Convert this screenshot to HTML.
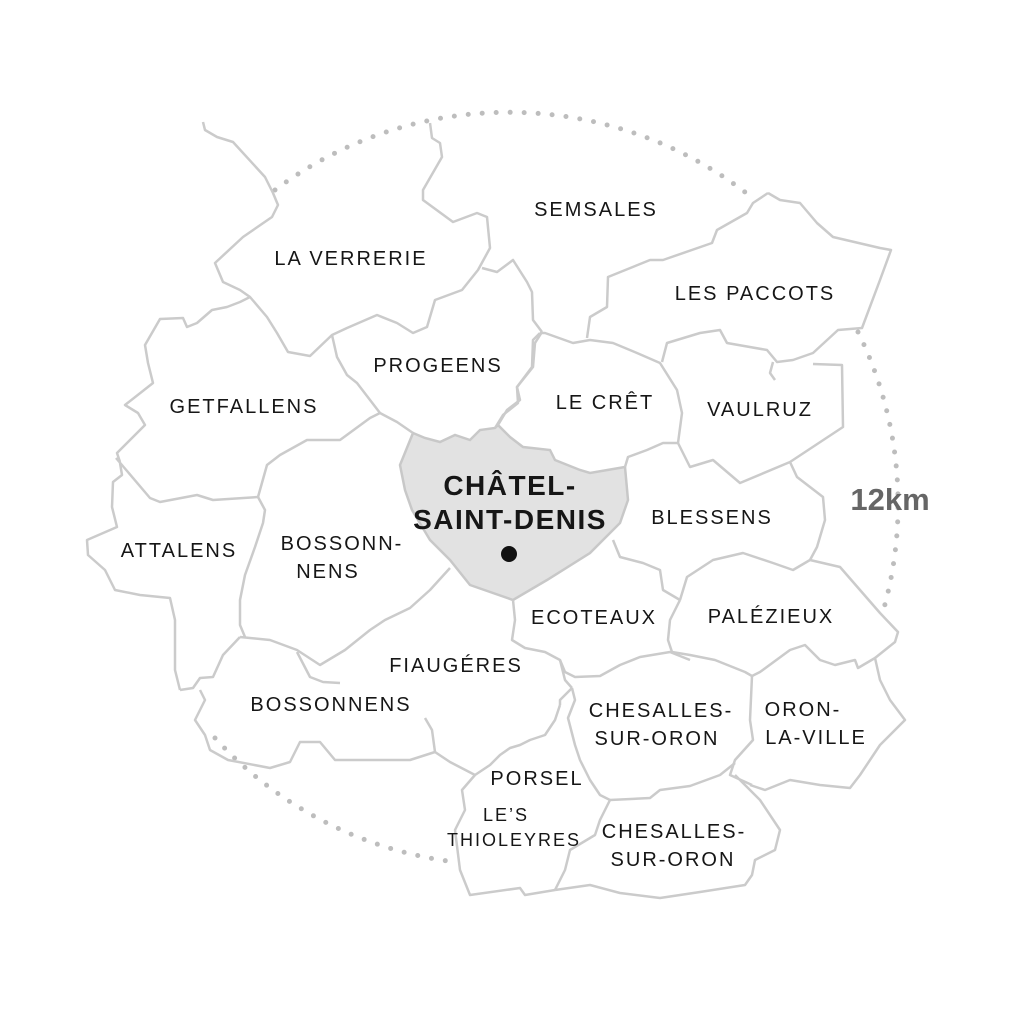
<!DOCTYPE html>
<html><head><style>
html,body{margin:0;padding:0;background:#fff}
svg{display:block}
text{font-family:"Liberation Sans",sans-serif;fill:#161616;font-size:20px;letter-spacing:2px;text-anchor:middle}
</style></head><body>
<svg width="1024" height="1024" viewBox="0 0 1024 1024">
<g fill="none" stroke="#bdbdbd" stroke-width="5" stroke-linecap="round" stroke-dasharray="0 14">
<path d="M275 190 A390 390 0 0 1 755 200"/>
<path d="M858 332 A390 390 0 0 1 882 615"/>
<path d="M215 738 A390 390 0 0 0 455 862"/>
</g>
<polygon points="413,433 400,465 405,490 412,510 430,540 450,560 470,585 513,600 547,580 590,553 620,523 628,500 625,467 590,473 580,470 555,460 550,450 523,447 510,437 498,425 495,428 480,430 470,440 455,435 440,442 425,438" fill="#e2e2e2" stroke="#c8c8c8" stroke-width="2.5"/>
<g fill="none" stroke="#cbcbcb" stroke-width="2.5" stroke-linejoin="round">
<polyline points="203,122 205,130 217,137 233,142 265,177 273,193 278,205 272,217 243,237 215,263 223,282 240,290 250,297 267,317 277,333 288,352 310,356 332,335 347,328 377,315 397,323 413,333 427,327 435,300 462,290 478,270 490,248 487,217 477,213 453,222 423,200 423,190 442,157 440,143 432,138 430,123"/>
<polyline points="482,268 497,272 513,260 527,282 532,292 533,320 542,332"/>
<polyline points="332,335 337,357 347,375 357,383 380,413 397,422 413,433"/>
<polyline points="542,332 535,343 533,367 517,387 518,403 503,415 495,428"/>
<polyline points="250,297 240,302 227,307 212,310 197,323 187,327 183,318 160,319 145,345 148,363 153,383 125,405 138,413 145,425 117,453 120,462"/>
<polyline points="380,413 370,418 340,440 307,440 280,455 267,465 258,497"/>
<polyline points="116,458 150,498 160,502 197,495 213,500 258,497"/>
<polyline points="120,463 122,475 113,482 112,507 117,527 87,540 88,555 105,570 115,590 140,595 170,598 175,620 175,650 175,670 180,690"/>
<polyline points="258,497 265,510 263,523 255,547 245,575 240,600 240,625 245,637"/>
<polyline points="768,193 780,200 800,203 817,223 833,237 880,248 891,250 880,280 862,328 838,330 813,353 793,360 777,362 767,350 727,343 720,330 700,333 667,343 662,362"/>
<polyline points="768,193 753,203 747,213 717,230 712,243 663,260 650,260 608,277 607,307 590,317 587,338"/>
<polyline points="540,333 545,333 573,343 590,340 613,343 637,353 660,363 677,390 682,413 678,443"/>
<polyline points="540,333 533,340 532,367 517,387 520,400 507,410 498,425"/>
<polyline points="625,467 628,457 647,450 663,443 678,443 690,467 713,460 740,483 790,462 843,427 842,365 813,364"/>
<polyline points="773,362 770,373 775,380"/>
<polyline points="790,462 797,477 823,497 825,520 817,547 810,560"/>
<polyline points="613,540 620,557 643,563 660,570 663,590 680,600"/>
<polyline points="680,600 687,577 713,560 743,553 773,563 793,570 810,560 840,567 880,613 898,632 895,642 875,658"/>
<polyline points="240,637 270,640 297,650 320,665 345,650 370,630 385,620 410,608 430,590 450,568"/>
<polyline points="180,690 193,688 200,678 213,677 223,655 240,637"/>
<polyline points="297,652 310,677 323,682 340,683"/>
<polyline points="200,690 205,700 195,720 205,735 210,750 228,760 270,768 290,762 300,742 320,742 335,760 380,760 410,760 435,752 450,762 475,775"/>
<polyline points="435,752 432,730 425,718"/>
<polyline points="513,600 515,620 512,640 525,648 545,652 560,660 565,680 572,688"/>
<polyline points="560,660 565,672 575,677 600,676 620,665 640,657 670,652 690,660"/>
<polyline points="680,600 670,620 668,640 672,652 690,655 715,660 745,672 752,676"/>
<polyline points="752,676 760,672 790,650 805,645 820,660 835,665 855,660 858,668 875,658 880,680 890,700 905,720 880,745 860,775 850,788 820,785 790,780 765,790 750,785"/>
<polyline points="752,676 750,720 753,740 735,760 730,775 752,785"/>
<polyline points="572,688 575,700 568,718 575,745 580,760 590,780 600,795 610,800"/>
<polyline points="610,800 650,798 660,790 690,786 720,775 735,763"/>
<polyline points="735,775 760,800 780,830 775,850 755,860 752,875 745,885 700,892 660,898 620,893 590,885 555,890"/>
<polyline points="610,800 600,820 595,835 570,850 565,870 555,890"/>
<polyline points="560,705 555,720 545,735 530,740 520,745 510,748 500,755 490,765 475,775 462,790 465,810 455,830 460,870 470,895 520,888 525,895 555,890"/>
<polyline points="572,688 560,700 560,705"/>
</g>
<circle cx="509" cy="554" r="8" fill="#111"/>
<text x="596" y="216">SEMSALES</text>
<text x="351" y="265">LA VERRERIE</text>
<text x="755" y="300">LES PACCOTS</text>
<text x="438" y="372">PROGEENS</text>
<text x="605" y="409">LE CRÊT</text>
<text x="760" y="416">VAULRUZ</text>
<text x="244" y="413">GETFALLENS</text>
<text x="179" y="557">ATTALENS</text>
<text x="342" y="550">BOSSONN-</text>
<text x="328" y="578">NENS</text>
<text x="712" y="524">BLESSENS</text>
<text x="594" y="624">ECOTEAUX</text>
<text x="771" y="623">PALÉZIEUX</text>
<text x="456" y="672">FIAUGÉRES</text>
<text x="331" y="711">BOSSONNENS</text>
<text x="661" y="717">CHESALLES-</text>
<text x="657" y="745">SUR-ORON</text>
<text x="803" y="716">ORON-</text>
<text x="816" y="744">LA-VILLE</text>
<text x="537" y="785">PORSEL</text>
<text x="506" y="821" style="font-size:18px">LE’S</text>
<text x="514" y="846" style="font-size:18px">THIOLEYRES</text>
<text x="674" y="838">CHESALLES-</text>
<text x="673" y="866">SUR-ORON</text>
<text x="510" y="495" style="font-size:28px;font-weight:bold;letter-spacing:1.5px">CHÂTEL-</text>
<text x="510" y="529" style="font-size:28px;font-weight:bold;letter-spacing:1.5px">SAINT-DENIS</text>
<text x="890" y="510" style="font-size:31px;fill:#666;letter-spacing:0;font-weight:bold">12km</text>
</svg>
</body></html>
